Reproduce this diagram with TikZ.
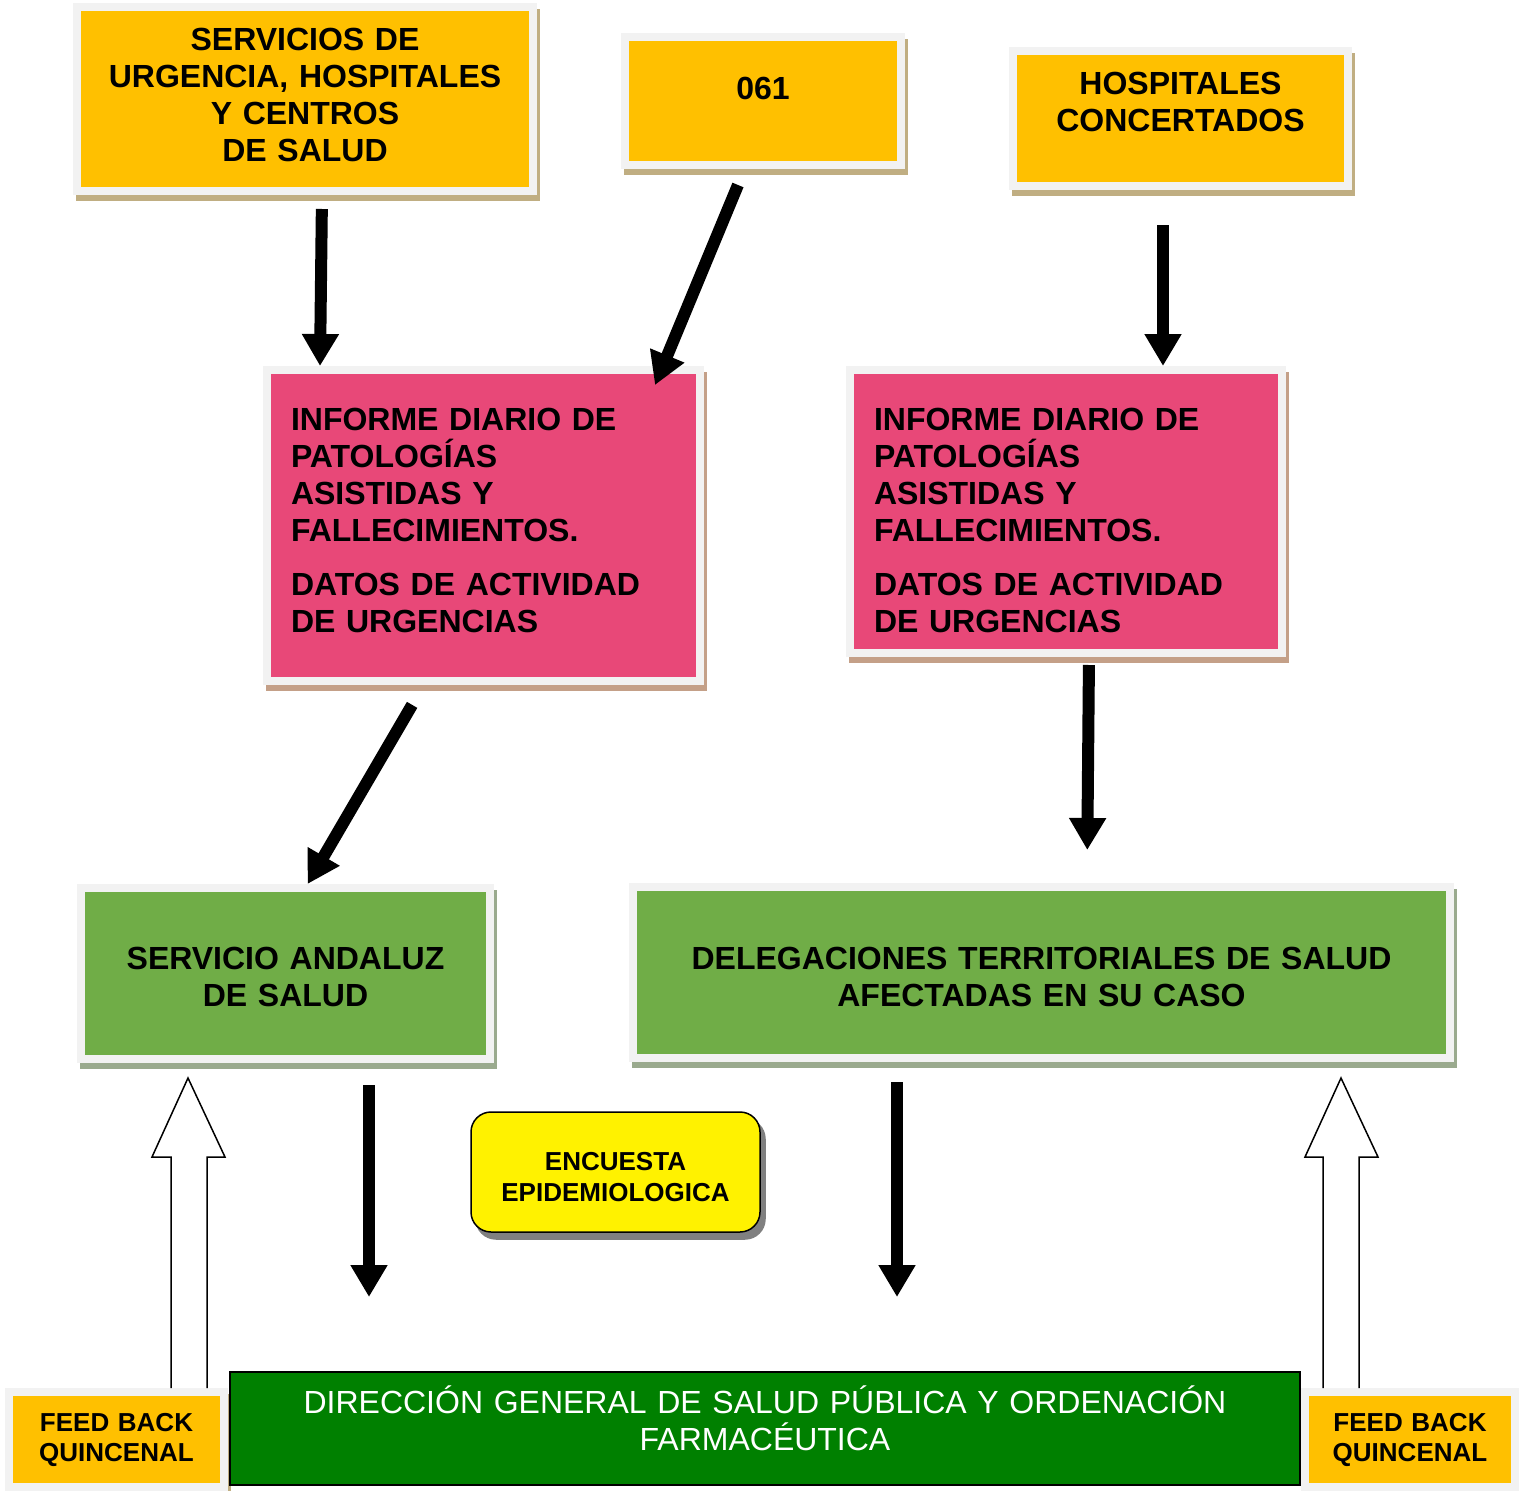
\documentclass[tikz,border=0pt]{standalone}
\usepackage{fontspec}
\setmainfont{Liberation Sans}
\usetikzlibrary{arrows.meta,shadows}

\definecolor{naranja}{HTML}{FFC000}
\definecolor{rosa}{HTML}{E84878}
\definecolor{verde}{HTML}{70AD47}
\definecolor{verdeosc}{HTML}{008000}
\definecolor{marco}{HTML}{F2F2F2}
\definecolor{sombranar}{HTML}{C0AE82}
\definecolor{sombrarosa}{HTML}{C4A088}
\definecolor{sombraverde}{HTML}{9AAA8E}

\begin{document}
\begin{tikzpicture}[x=1pt,y=-1pt,
  marcado/.style={draw=marco, line width=8pt, inner sep=0pt, align=center},
  sombra/.style={drop shadow={shadow xshift=3pt, shadow yshift=-6pt, opacity=1, fill=#1, draw=#1}},
  caja/.style={marcado, fill=naranja, sombra=sombranar, font=\bfseries\fontsize{32}{37}\selectfont},
  informe/.style={marcado, fill=rosa, sombra=sombrarosa, align=left, text width=385pt, font=\bfseries\fontsize{32}{37}\selectfont},
  delega/.style={marcado, fill=verde, sombra=sombraverde, font=\bfseries\fontsize{32}{37}\selectfont},
  feed/.style={marcado, fill=naranja, sombra=sombranar, text width=195pt, font=\bfseries\fontsize{26}{30}\selectfont},
  encuesta/.style={draw=black, line width=1.5pt, fill=yellow, rounded corners=20pt, inner sep=0pt, align=center,
    drop shadow={shadow xshift=5pt, shadow yshift=-7pt, opacity=1, fill=gray, draw=gray}, font=\bfseries\fontsize{26}{31}\selectfont},
  direccion/.style={draw=black, line width=2pt, fill=verdeosc, inner sep=0pt, align=center, text=white, font=\fontsize{32}{37}\selectfont},
  baja/.style={text height=0pt, text depth=#1},
  flecha/.style={line width=12pt, -{Triangle[length=32pt,width=35pt]}},
  hueca/.style={draw=black, line width=1.5pt, fill=white}
]
\useasboundingbox (0,0) rectangle (1519,1491);

% fuentes de informacion
\node[caja, text width=440pt, minimum width=456pt, minimum height=184pt, baja=97pt] (serv) at (305,99)
  {SERVICIOS DE\\URGENCIA, HOSPITALES\\Y CENTROS\\DE SALUD};
\node[caja, minimum width=276pt, minimum height=128pt, baja=3pt] (tel) at (763,101) {061};
\node[caja, text width=320pt, minimum width=335pt, minimum height=135pt, baja=48pt] (hosp) at (1180.5,118.5)
  {HOSPITALES\\CONCERTADOS};

% informes
\node[informe, minimum width=433pt, minimum height=311pt, baja=190pt] (inf1) at (483.5,525.5)
  {INFORME DIARIO DE\\PATOLOGÍAS\\ASISTIDAS Y\\FALLECIMIENTOS.\\[17pt]DATOS DE ACTIVIDAD\\DE URGENCIAS};
\node[informe, text width=384pt, minimum width=432pt, minimum height=283pt, baja=162pt] (inf2) at (1066,511.5)
  {INFORME DIARIO DE\\PATOLOGÍAS\\ASISTIDAS Y\\FALLECIMIENTOS.\\[17pt]DATOS DE ACTIVIDAD\\DE URGENCIAS};

% destinos
\node[delega, text width=393pt, minimum width=409pt, minimum height=171pt, baja=8pt] (sas) at (285.5,973.5)
  {SERVICIO ANDALUZ\\DE SALUD};
\node[delega, text width=800pt, minimum width=817pt, minimum height=171pt, baja=6pt] (deleg) at (1041.5,972.5)
  {DELEGACIONES TERRITORIALES DE SALUD\\AFECTADAS EN SU CASO};

\node[encuesta, text width=280pt, minimum width=289pt, minimum height=120pt, baja=3.4pt] (enc) at (615.5,1172)
  {ENCUESTA\\EPIDEMIOLOGICA};

\node[feed, minimum width=215pt, minimum height=95pt, baja=16.4pt] (fb1) at (116.5,1439.5) {FEED BACK\\QUINCENAL};
\node[feed, minimum width=210pt, minimum height=95pt, baja=16.4pt] (fb2) at (1410,1439.5) {FEED BACK\\QUINCENAL};

\node[direccion, text width=1050pt, minimum width=1070pt, minimum height=113pt, baja=30pt] (dgsp) at (765,1428.5)
  {DIRECCIÓN GENERAL DE SALUD PÚBLICA Y ORDENACIÓN\\FARMACÉUTICA};

% flechas
\draw[flecha, shorten <=14pt] (serv.south -| 322,0) -- (inf1.north -| 320,0);
\draw[flecha, shorten <=17.3pt, shorten >=-20.6pt] (tel.south -| 744.6,0) -- (inf1.north -| 662.9,0);
\draw[flecha, shorten <=35pt] (hosp.south -| 1163,0) -- (inf2.north -| 1163,0);
\draw[flecha, shorten <=23pt] (inf1.south -| 423.7,0) -- (sas.north -| 307.6,0);
\draw[flecha, shorten <=8pt, shorten >=33pt] (inf2.south -| 1089,0) -- (deleg.north -| 1087,0);
\draw[flecha, shorten <=22pt, shorten >=74pt] (sas.south -| 369,0) -- (dgsp.north -| 369,0);
\draw[flecha, shorten <=20pt, shorten >=74pt] (deleg.south -| 897,0) -- (dgsp.north -| 897,0);

% feed back
\draw[hueca] (fb1.north -| 171,0) -- ++(0,-231) -- ++(-19,0) -- ++(36,-79) -- ++(37,79) -- ++(-18,0) -- (fb1.north -| 207,0);
\draw[hueca] (fb2.north -| 1323,0) -- ++(0,-231) -- ++(-18,0) -- ++(36,-79) -- ++(37,79) -- ++(-19,0) -- (fb2.north -| 1359,0);

\end{tikzpicture}
\end{document}
